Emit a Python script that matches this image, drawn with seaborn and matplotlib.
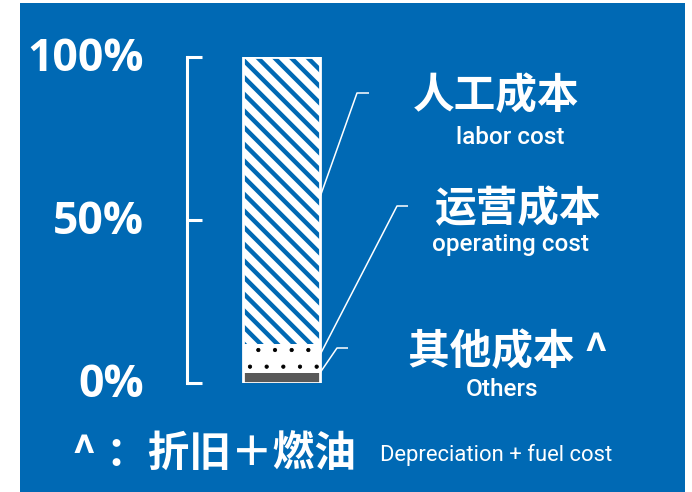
import matplotlib
matplotlib.use("Agg")
import matplotlib.pyplot as plt
import seaborn as sns
from matplotlib.patches import Rectangle
from matplotlib.transforms import ScaledTranslation

# cost composition, percent of total (stacked bottom -> top)
category = ["成本"]
others_share = 3
operating_share = 9
labor_share = 88
tick_values = [0, 50, 100]
tick_labels = ["0%", "50%", "100%"]
labels_cn = ["人工成本", "运营成本", "其他成本 ^"]
labels_en = ["labor cost", "operating cost", "Others"]
footnote_cn = "^ ：折旧＋燃油"
footnote_en = "Depreciation + fuel cost"

BLUE = "#0069b4"
GREY = "#595959"
W, H = 692, 492

sns.set_theme(style="white")
plt.rcParams["font.family"] = ["Noto Sans CJK SC", "DejaVu Sans"]
plt.rcParams["hatch.linewidth"] = 3.2

fig = plt.figure(figsize=(W / 100, H / 100), dpi=100)
fig.patch.set_facecolor("white")


def fx(px):
    return px / W


def fy(py):
    return 1 - py / H


# blue panel
fig.add_artist(Rectangle((fx(20), 0), fx(665), 1 - 3 / H, transform=fig.transFigure,
                         facecolor=BLUE, edgecolor="none", zorder=0))

ax = fig.add_axes([fx(187), fy(383), fx(493), 326 / H])
ax.patch.set_alpha(0)

bar_w = 0.407
top_labor = others_share + operating_share + labor_share
top_operating = others_share + operating_share
top_others = others_share

# stacked segments drawn as overlapping cumulative bars
sns.barplot(x=category, y=[top_labor], width=bar_w, color="white", edgecolor=BLUE,
            linewidth=0, hatch="\\\\", saturation=1, ax=ax)

n_before = len(ax.patches)
with plt.rc_context({"hatch.linewidth": 0.6}):
    sns.barplot(x=category, y=[top_operating], width=bar_w, color="white",
                edgecolor="black", linewidth=0, hatch=".", saturation=1, ax=ax)
dotted = ax.patches[n_before:]


def thin_hatch_draw(patch):
    original = patch.draw

    def draw(renderer):
        with plt.rc_context({"hatch.linewidth": 0.6}):
            original(renderer)
    patch.draw = draw


for p in dotted:
    if hasattr(p, "set_hatch_linewidth"):
        p.set_hatch_linewidth(0.6)
    thin_hatch_draw(p)

sns.barplot(x=category, y=[top_others], width=bar_w, color=GREY, edgecolor=GREY,
            linewidth=0, saturation=1, ax=ax)
sns.barplot(x=category, y=[top_labor], width=bar_w, color="white", fill=False,
            linewidth=2, saturation=1, ax=ax)

ax.set_xlim(-0.5, 493 / 189 - 0.5)
ax.set_ylim(0, 100)
ax.set_xlabel("")
ax.set_ylabel("")
ax.set_xticks([])
ax.set_yticks(tick_values, tick_labels)
for s in ["top", "right", "bottom"]:
    ax.spines[s].set_visible(False)
ax.spines["left"].set_color("white")
ax.spines["left"].set_linewidth(2.2)
ax.spines["left"].set_bounds(0, 100)
ax.tick_params(axis="y", direction="in", length=10.5, width=2.2, color="white",
               pad=31, labelcolor="white", left=True)
lift = ScaledTranslation(0, 3 / 100, fig.dpi_scale_trans)
for t in ax.get_yticklabels():
    t.set_fontfamily(["Open Sans", "DejaVu Sans"])
    t.set_fontweight("bold")
    t.set_fontsize(32)
    t.set_transform(t.get_transform() + lift)


def px2data(px, py):
    return (px - 281.5) / 189, (383 - py) / 3.26


# leader lines: anchor on the bar edge, slanted run, short horizontal tail
leaders = [
    (57.0, (357, 93), (369, 93)),
    (8.6, (397, 206), (408, 206)),
    (3.1, (337, 348), (348, 348)),
]
for anchor, elbow, tail in leaders:
    ex, ey = px2data(*elbow)
    tx, ty = px2data(*tail)
    ax.plot([bar_w / 2, ex, tx], [anchor, ey, ty], color="white", lw=1.1,
            clip_on=False, solid_capstyle="butt")

latin = ["Roboto", "Liberation Sans", "DejaVu Sans"]
cjk = ["Noto Sans CJK SC", "DejaVu Sans"]
cn_pos = [(496, 96), (517, 209), (508, 352)]
en_pos = [(510, 137), (511, 245), (502, 390)]
for txt, (x, y) in zip(labels_cn, cn_pos):
    fig.text(fx(x), fy(y), txt, color="white", fontsize=30, fontweight="bold",
             ha="center", va="center", family=cjk)
for txt, (x, y) in zip(labels_en, en_pos):
    fig.text(fx(x), fy(y), txt, color="white", fontsize=17.5, fontweight="medium",
             ha="center", va="center", family=latin)

fig.text(fx(72), fy(455), footnote_cn, color="white", fontsize=30, fontweight="bold",
         ha="left", va="center", family=cjk)
fig.text(fx(380), fy(455), footnote_en, color="white", fontsize=15.8,
         ha="left", va="center", family=latin)

fig.savefig("out.png", dpi=100, facecolor=fig.get_facecolor())
